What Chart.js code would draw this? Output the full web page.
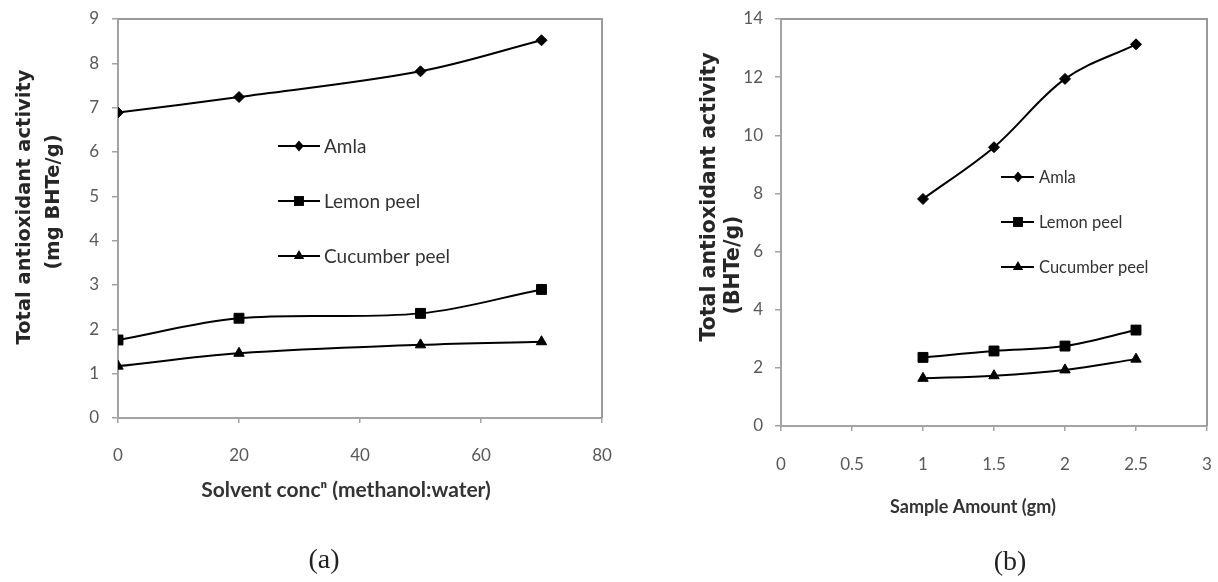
<!DOCTYPE html>
<html><head><meta charset="utf-8">
<script src="https://cdn.jsdelivr.net/npm/chart.js@4.4.0/dist/chart.umd.min.js"></script>
<style>
html,body{margin:0;padding:0;background:#fff;width:1218px;height:582px;overflow:hidden}
canvas{position:absolute;top:0}
#ca{left:0}
#cb{left:620px}
</style></head><body>
<canvas id="ca" width="620" height="582"></canvas>
<canvas id="cb" width="598" height="582"></canvas>
<script>
// ---------- data ----------
const seriesNames = ['Amla', 'Lemon peel', 'Cucumber peel'];
// chart (a): x = solvent concentration
const solventConc = [0, 20, 50, 70];
const amlaA = [6.89, 7.24, 7.82, 8.52];
const lemonA = [1.76, 2.25, 2.36, 2.90];
const cucumberA = [1.17, 1.46, 1.65, 1.72];
// chart (b): x = sample amount
const sampleAmount = [1, 1.5, 2, 2.5];
const amlaB = [7.81, 9.59, 11.94, 13.13];
const lemonB = [2.36, 2.58, 2.75, 3.30];
const cucumberB = [1.64, 1.73, 1.93, 2.30];
// axis tick setup
const xTicksA = {min: 0, max: 80, step: 20};
const yTicksA = {min: 0, max: 9, step: 1};
const xTicksB = {min: 0, max: 3, step: 0.5};
const yTicksB = {min: 0, max: 14, step: 2};
// text
const yTitleA = ['Total antioxidant activity', '(mg BHTe/g)'];
const yTitleB = ['Total antioxidant activity', '(BHTe/g)'];
const xTitleA = 'Solvent conc\u207F (methanol:water)';
const xTitleB = 'Sample Amount (gm)';
const panelA = '(a)';
const panelB = '(b)';

// ---------- styles ----------
const pointStyles = ['rectRot', 'rect', 'triangle'];
const pointRadii = [5.5, 7, 6];
const AXIS = '#a3a3a3';
const TICK = '#595959';

function pts(xs, ys) { return xs.map((x, i) => ({x: x, y: ys[i]})); }

function drawShape(ctx, style, r, x, y) {
  ctx.beginPath();
  if (style === 'rectRot') {
    ctx.moveTo(x - r * 0.85, y); ctx.lineTo(x, y - r); ctx.lineTo(x + r * 0.85, y); ctx.lineTo(x, y + r);
  } else if (style === 'rect') {
    const s = r * Math.SQRT1_2;
    ctx.rect(x - s, y - s, 2 * s, 2 * s);
  } else {
    const a = 2 * Math.PI / 3;
    ctx.moveTo(x, y - r);
    ctx.lineTo(x + Math.sin(a) * r, y - Math.cos(a) * r);
    ctx.lineTo(x + Math.sin(2 * a) * r, y - Math.cos(2 * a) * r);
  }
  ctx.closePath();
  ctx.fill();
}

const decoPlugin = {
  id: 'deco',
  beforeDatasetsDraw(chart, args, o) {
    const ca = chart.chartArea, ctx = chart.ctx;
    ctx.save();
    ctx.strokeStyle = o.boxColor; ctx.lineWidth = 2;
    ctx.beginPath();
    ctx.moveTo(ca.left, ca.top); ctx.lineTo(ca.right, ca.top); ctx.lineTo(ca.right, ca.bottom);
    ctx.stroke();
    ctx.restore();
  },
  afterDraw(chart, args, o) {
    const ctx = chart.ctx;
    ctx.save();
    // in-plot legend
    const lg = o.legend;
    chart.data.datasets.forEach((ds, i) => {
      const y = lg.ys[i];
      ctx.strokeStyle = '#000'; ctx.lineWidth = 2;
      ctx.beginPath(); ctx.moveTo(lg.x1, y); ctx.lineTo(lg.x2, y); ctx.stroke();
      ctx.fillStyle = '#000';
      drawShape(ctx, ds.pointStyle, ds.pointRadius, lg.mx, y);
      ctx.fillStyle = '#333';
      ctx.font = lg.font;
      ctx.textAlign = 'left'; ctx.textBaseline = 'middle';
      ctx.fillText(ds.label, lg.tx, y + 1);
    });
    // titles
    o.texts.forEach(t => {
      ctx.save();
      ctx.translate(t.x, t.y);
      if (t.rot) ctx.rotate(t.rot);
      ctx.font = t.font; ctx.fillStyle = t.color;
      ctx.textAlign = 'center'; ctx.textBaseline = 'middle';
      ctx.fillText(t.text, 0, 0);
      ctx.restore();
    });
    ctx.restore();
  }
};

function makeChart(id, xs, seriesVals, xt, yt, geo, deco) {
  return new Chart(document.getElementById(id), {
    type: 'line',
    data: {
      datasets: seriesVals.map((v, i) => ({
        label: seriesNames[i],
        data: pts(xs, v),
        borderColor: '#000',
        backgroundColor: '#000',
        borderWidth: 2,
        pointStyle: pointStyles[i],
        pointRadius: pointRadii[i],
        pointBorderWidth: 1,
        pointBackgroundColor: '#000',
        pointBorderColor: '#000',
        tension: 0.35,
        fill: false
      }))
    },
    options: {
      responsive: false,
      animation: false,
      devicePixelRatio: 1,
      layout: {padding: geo.padding},
      plugins: {legend: {display: false}, tooltip: {enabled: false}, deco: deco},
      scales: {
        x: {
          type: 'linear', min: xt.min, max: xt.max,
          ticks: {stepSize: xt.step, color: TICK, font: {family: 'Lato', size: 17}, padding: geo.xPad,
                  callback: v => String(v)},
          grid: {drawOnChartArea: false, drawTicks: true, tickLength: 5, color: AXIS, lineWidth: 1.5},
          border: {display: true, color: AXIS, width: 2},
          afterFit: s => { s.height = geo.xH; s.paddingLeft = 0; s.paddingRight = 0; }
        },
        y: {
          type: 'linear', min: yt.min, max: yt.max,
          ticks: {stepSize: yt.step, color: TICK, font: {family: 'Lato', size: 17}, padding: geo.yPad},
          grid: {drawOnChartArea: false, drawTicks: true, tickLength: 6, color: AXIS, lineWidth: 1.5},
          border: {display: true, color: AXIS, width: 2},
          afterFit: s => { s.width = geo.yW; s.paddingTop = 0; s.paddingBottom = 0; }
        }
      }
    },
    plugins: [decoPlugin]
  });
}

const yFontA = 'bold 19.5px "DejaVu Sans"';
const yFontB = 'bold 20.5px "DejaVu Sans"';

makeChart('ca', solventConc, [amlaA, lemonA, cucumberA], xTicksA, yTicksA,
  {padding: {left: 0, top: 19, right: 18, bottom: 0}, yW: 118, xH: 164, xPad: 22, yPad: 13},
  {
    boxColor: '#999',
    legend: {x1: 278, x2: 320, mx: 299, tx: 324, ys: [146, 201, 256], font: '19px Lato'},
    texts: [
      {text: yTitleA[0], x: 25, y: 207, rot: -Math.PI / 2, font: yFontA, color: '#262626'},
      {text: yTitleA[1], x: 54, y: 202, rot: -Math.PI / 2, font: yFontA, color: '#262626'},
      {text: xTitleA, x: 346, y: 490, font: 'bold 21px Lato', color: '#333'},
      {text: panelA, x: 324, y: 561, font: '28px "Liberation Serif"', color: '#222'}
    ]
  });

makeChart('cb', sampleAmount, [amlaB, lemonB, cucumberB], xTicksB, yTicksB,
  {padding: {left: 0, top: 19, right: 11, bottom: 0}, yW: 161, xH: 156, xPad: 23, yPad: 12},
  {
    boxColor: '#999',
    legend: {x1: 381, x2: 414, mx: 398, tx: 419, ys: [177, 222, 267], font: '16.5px Lato'},
    texts: [
      {text: yTitleB[0], x: 90, y: 197, rot: -Math.PI / 2, font: yFontB, color: '#262626'},
      {text: yTitleB[1], x: 114, y: 265, rot: -Math.PI / 2, font: yFontB, color: '#262626'},
      {text: xTitleB, x: 353, y: 507, font: 'bold 18px Lato', color: '#333'},
      {text: panelB, x: 390, y: 563, font: '28px "Liberation Serif"', color: '#222'}
    ]
  });
</script>
</body></html>
